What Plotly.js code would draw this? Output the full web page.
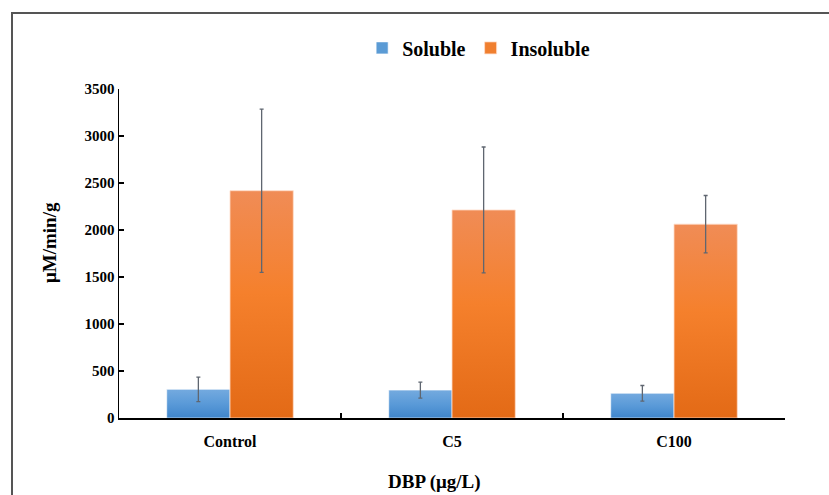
<!DOCTYPE html>
<html>
<head>
<meta charset="utf-8">
<script src="https://cdn.plot.ly/plotly-3.0.1.min.js"></script>
<style>
  html, body { margin: 0; padding: 0; background: #fff; }
  #wrap { position: relative; width: 829px; height: 495px; overflow: hidden; }
  #chart { position: absolute; left: 0; top: 0; width: 829px; height: 495px; }
  #frame { position: absolute; left: 11px; top: 12px; width: 900px; height: 600px;
           border-left: 2px solid #555; border-top: 2px solid #555; pointer-events: none; }
</style>
</head>
<body>
<div id="wrap">
  <div id="chart"></div>
  <div id="frame"></div>
</div>
<script>
const categories = ["Control", "C5", "C100"];
const solubleValues = [305, 297, 263];
const solubleErrors = [130, 85, 83];
const insolubleValues = [2418, 2213, 2062];
const insolubleErrors = [868, 670, 305];
const yTicks = [0, 500, 1000, 1500, 2000, 2500, 3000, 3500];
const xTitle = "DBP (μg/L)";
const yTitle = "μM/min/g";

const FONT = "Liberation Serif, 'DejaVu Serif', serif";

const errStyle = { type: "data", visible: true, color: "#5f6670", thickness: 1.3, width: 2 };

const traces = [
  {
    type: "bar", name: "Soluble", x: categories, y: solubleValues,
    error_y: Object.assign({ array: solubleErrors }, errStyle),
    marker: { color: "#5b9bd5", line: { color: "rgba(255,255,255,0.6)", width: 1 } }
  },
  {
    type: "bar", name: "Insoluble", x: categories, y: insolubleValues,
    error_y: Object.assign({ array: insolubleErrors }, errStyle),
    marker: { color: "#f07f2f", line: { color: "rgba(255,220,200,0.8)", width: 1 } }
  }
];

const layout = {
  width: 829, height: 495,
  margin: { l: 119, r: 44, t: 89, b: 77 },
  paper_bgcolor: "rgba(0,0,0,0)", plot_bgcolor: "#fff",
  barmode: "group", bargap: 0.43, bargroupgap: 0,
  font: { family: FONT, color: "#000", size: 14 },
  showlegend: true,
  legend: {
    orientation: "h", x: 0.54, xanchor: "center", y: 1.125, yanchor: "middle",
    font: { family: FONT, size: 20, color: "#000", weight: "bold" },
    itemwidth: 30, traceorder: "normal"
  },
  xaxis: {
    type: "category",
    showline: true, linecolor: "#000", linewidth: 1.5,
    ticks: "inside", tickson: "boundaries", ticklen: 5, tickcolor: "#000", tickwidth: 1.5,
    tickfont: { family: FONT, size: 16, weight: "bold" },
    ticklabelstandoff: 8,
    showgrid: false, zeroline: false
  },
  yaxis: {
    range: [0, 3500], tickvals: yTicks,
    showline: true, linecolor: "#000", linewidth: 1.5,
    ticks: "inside", ticklen: 5, tickcolor: "#000", tickwidth: 1.5,
    tickfont: { family: FONT, size: 15, weight: "bold" },
    showgrid: false, zeroline: false
  },
  annotations: [
    { text: xTitle, xref: "paper", yref: "paper", x: 0.474, y: -0.195,
      xanchor: "center", yanchor: "middle", showarrow: false,
      font: { family: FONT, size: 19, weight: "bold", color: "#000" } },
    { text: yTitle, xref: "paper", yref: "paper", x: -0.1036, y: 0.532, textangle: -90,
      xanchor: "center", yanchor: "middle", showarrow: false,
      font: { family: FONT, size: 19, weight: "bold", color: "#000" } }
  ]
};

Plotly.newPlot("chart", traces, layout, { displayModeBar: false, staticPlot: true }).then(function (gd) {
  const svg = gd.querySelector("svg.main-svg");
  const ns = "http://www.w3.org/2000/svg";
  let defs = svg.querySelector("defs");
  if (!defs) { defs = document.createElementNS(ns, "defs"); svg.insertBefore(defs, svg.firstChild); }
  function grad(id, stops) {
    const g = document.createElementNS(ns, "linearGradient");
    g.setAttribute("id", id);
    g.setAttribute("x1", "0"); g.setAttribute("y1", "0");
    g.setAttribute("x2", "0"); g.setAttribute("y2", "1");
    stops.forEach(function (s) {
      const st = document.createElementNS(ns, "stop");
      st.setAttribute("offset", s[0]);
      st.setAttribute("stop-color", s[1]);
      g.appendChild(st);
    });
    defs.appendChild(g);
  }
  grad("gradBlue", [["0", "#74aadf"], ["0.5", "#5a9ad8"], ["1", "#3f85cb"]]);
  grad("gradOrange", [["0", "#f08c56"], ["0.45", "#f5802c"], ["1", "#e36a16"]]);
  const bars = gd.querySelectorAll(".barlayer .trace");
  const ids = ["gradBlue", "gradOrange"];
  bars.forEach(function (t, i) {
    t.querySelectorAll(".point path").forEach(function (p) {
      p.style.fill = "url(#" + ids[i] + ")";
    });
  });
});
</script>
</body>
</html>
